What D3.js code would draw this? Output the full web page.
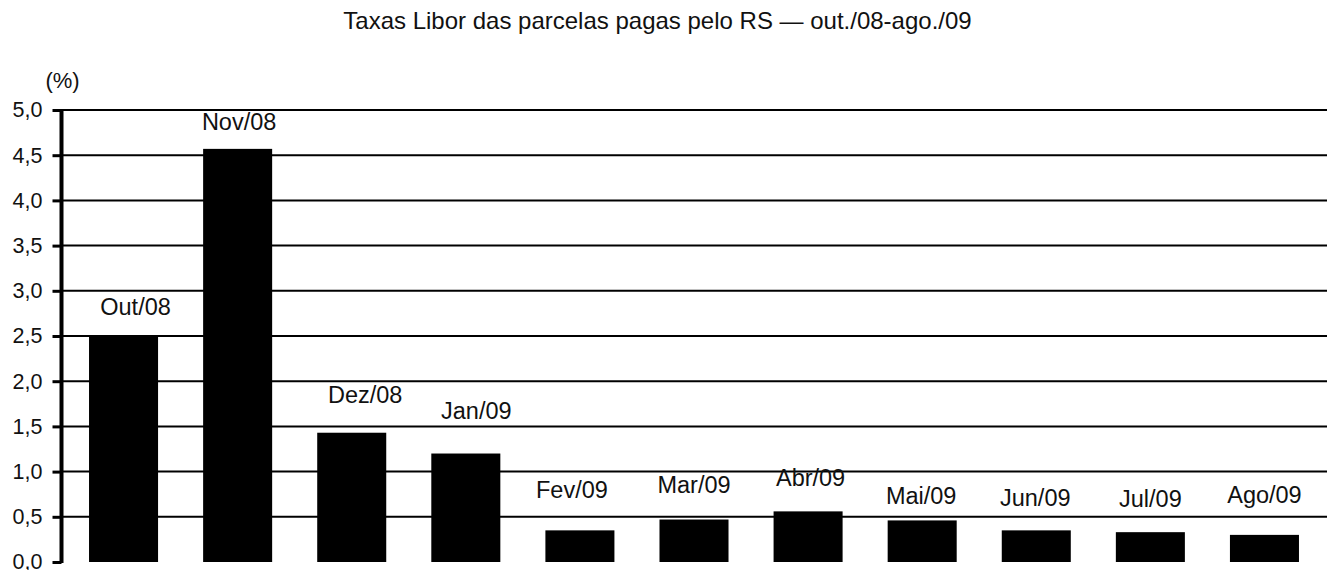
<!DOCTYPE html>
<html>
<head>
<meta charset="utf-8">
<script src="https://cdn.jsdelivr.net/npm/d3@7"></script>
<style>
  html, body { margin: 0; padding: 0; background: #fff; }
  svg { display: block; font-family: "Liberation Sans", Arial, sans-serif; }
</style>
</head>
<body>
<svg id="chart" width="1327" height="570"></svg>
<script>
// ---- data ----
const categories = ["Out/08", "Nov/08", "Dez/08", "Jan/09", "Fev/09", "Mar/09", "Abr/09", "Mai/09", "Jun/09", "Jul/09", "Ago/09"];
const values = [2.50, 4.57, 1.43, 1.20, 0.35, 0.47, 0.56, 0.46, 0.35, 0.33, 0.30];
const yTicks = [0, 0.5, 1.0, 1.5, 2.0, 2.5, 3.0, 3.5, 4.0, 4.5, 5.0];
const title = "Taxas Libor das parcelas pagas pelo RS — out./08-ago./09";
const unitLabel = "(%)";

// ---- layout (label nudges, as placed in the original) ----
const labelDx = [12, 1.5, 13.5, 10.5, -8, 0, 2.5, -1, -1, 0, 0];
const labelGap = [21, 19, 30, 35, 32, 27, 25, 16, 24, 25, 32];

const svg = d3.select("#chart");
const W = 1327, H = 570;
const axisX = 61.5;

const y = d3.scaleLinear().domain([0, 5]).range([562, 110]);
const x = d3.scaleBand().domain(categories).range([66.5, 1321.5]).paddingInner(0.395).paddingOuter(0.1975);

const fmt = v => d3.format(".1f")(v).replace(".", ",");

// title
svg.append("text")
  .attr("x", 657.5).attr("y", 29)
  .attr("text-anchor", "middle")
  .attr("font-size", 24)
  .attr("fill", "#111")
  .text(title);

// unit label
svg.append("text")
  .attr("x", 62.5).attr("y", 88)
  .attr("text-anchor", "middle")
  .attr("font-size", 22)
  .attr("fill", "#111")
  .text(unitLabel);

// gridlines
svg.append("g").selectAll("line")
  .data(yTicks.filter(t => t > 0))
  .join("line")
  .attr("x1", axisX).attr("x2", W)
  .attr("y1", d => y(d)).attr("y2", d => y(d))
  .attr("stroke", "#000").attr("stroke-width", 2);

// bars
svg.append("g").selectAll("rect")
  .data(values)
  .join("rect")
  .attr("x", (d, i) => x(categories[i]))
  .attr("width", x.bandwidth())
  .attr("y", d => y(d))
  .attr("height", d => y(0) - y(d))
  .attr("fill", "#000");

// bar labels
svg.append("g").selectAll("text")
  .data(values)
  .join("text")
  .attr("x", (d, i) => x(categories[i]) + x.bandwidth() / 2 + labelDx[i])
  .attr("y", (d, i) => y(d) - labelGap[i])
  .attr("text-anchor", "middle")
  .attr("font-size", 23.5)
  .attr("fill", "#111")
  .text((d, i) => categories[i]);

// y axis
const yAxis = d3.axisLeft(y).tickValues(yTicks).tickFormat(fmt).tickSize(9).tickPadding(10);
const gAxis = svg.append("g").attr("transform", `translate(${axisX},0)`).call(yAxis);
gAxis.select(".domain").attr("stroke", "#000").attr("stroke-width", 4).attr("d", `M0,${y(5) - 1}V${y(0) + 1}`);
gAxis.selectAll(".tick line").attr("stroke", "#000").attr("stroke-width", 3);
gAxis.selectAll(".tick text")
  .attr("font-size", 21.5)
  .attr("font-family", "Liberation Sans, Arial, sans-serif")
  .attr("fill", "#111");
</script>
</body>
</html>
